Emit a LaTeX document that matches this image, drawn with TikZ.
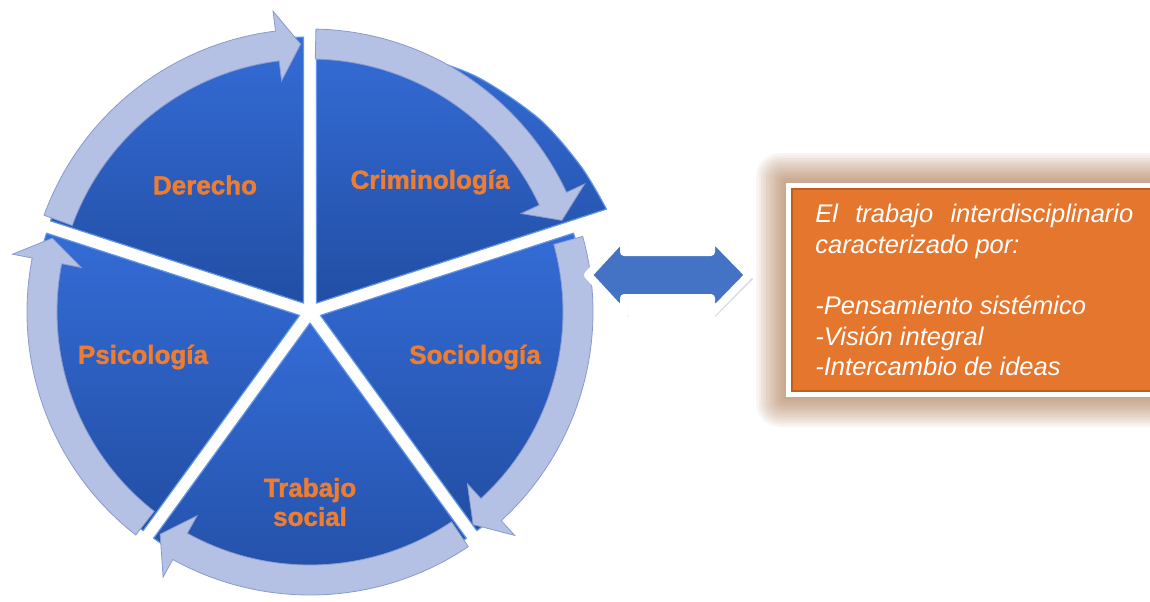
\documentclass[tikz,border=0pt]{standalone}
\usepackage{fontspec}
\setmainfont{Liberation Sans}
\newfontfamily\labelfont{Liberation Sans}[BoldFeatures={FakeBold=1.6}]
\usepackage{tikz}
\definecolor{segtop}{RGB}{52,108,214}
\definecolor{segbot}{RGB}{34,78,164}
\definecolor{segedge}{RGB}{100,150,232}
\definecolor{ringfill}{RGB}{180,193,229}
\definecolor{ringedge}{RGB}{138,154,204}
\definecolor{labelorange}{RGB}{237,125,49}
\definecolor{boxorange}{RGB}{228,118,46}
\definecolor{boxedge}{RGB}{196,92,26}
\definecolor{glowbrown}{RGB}{150,88,40}
\definecolor{arrowblue}{RGB}{68,114,196}
\newcommand{\pier}[0] {266}
\newcommand{\ringr}[0] {268}

\begin{document}
\begin{tikzpicture}[x=0.5pt,y=0.5pt,
        segment/.style={top color=segtop, bottom color=segbot, draw=segedge, line width=0.6pt, line join=round},
        ringarrow/.style={fill=ringfill, draw=ringedge, line width=0.4pt},
        field/.style={font=\fontsize{13}{14.5}\selectfont\labelfont\bfseries, text=labelorange, align=center}]
        \useasboundingbox (-310,-289) rectangle (840,312);

        %pie segments
        \foreach \a/\b in {90/162, -54/18, -126/-54, 162/234} {
            \pgfmathsetmacro{\m}{(\a+\b)/2}
            \draw[segment, shift={(\m:11)}] (0,0) -- (\a:\pier) arc (\a:\b:\pier) -- cycle;
        }
        \draw[segment, shift={(54:11)}] (0,0) -- plot[smooth] coordinates {(0,262) (88,250) (159,227) (223,184) (265,136) (290,94)} -- cycle;

        %arrows round the pie
        \foreach \s/\e in {160/92, 88.8/20, 15.5/-52.5, -56/-124, -128/-196} {
            \pgfmathsetmacro{\h}{\e+5}
            \draw[ringarrow] (\s:\ringr-15) arc (\s:\h:\ringr-15) -- (\h:\ringr-35) -- (\e:\ringr)
                -- (\h:\ringr+35) -- (\h:\ringr+15) arc (\h:\s:\ringr+15) -- cycle;
        }

        \node[field] (der) at (-105,127) {Derecho};
        \node[field] (crim) at (120,130) {Criminología};
        \node[field] (soc) at (165,-45) {Sociología};
        \node[field] (psi) at (-167,-45) {Psicología};
        \node[field] (trab) at (0,-190) {Trabajo\\social};

        %double arrow
        \fill[black, opacity=0.15] (282,33) -- (318,71) -- (318,55) -- (405,55) -- (405,71) -- (443,33)
            -- (405,-5) -- (405,11) -- (318,11) -- (318,-5) -- cycle;
        \draw[draw=white, line width=4pt, fill=arrowblue, line join=round] (278,37) -- (314,76) -- (314,60)
            -- (401,60) -- (401,76) -- (439,37) -- (401,-2) -- (401,14) -- (314,14) -- (314,-2) -- cycle;

        %box
        \foreach \g in {1,...,12}
            \fill[glowbrown, opacity=0.06, rounded corners=\g*1pt] (476-\g*2.5,-85-\g*2.5) rectangle (870+\g*2.5,129+\g*2.5);
        \fill[white] (476,-85) rectangle (870,129);
        \draw[fill=boxorange, draw=boxedge, line width=1pt] (482,-79) rectangle (870,123);
        \node[anchor=north west, inner sep=0pt, text width=159pt, align=justify, text=white,
            font=\fontsize{12.75}{15.3}\selectfont\itshape] (ideas) at (505,108)
            {El trabajo interdisciplinario\linebreak caracterizado por:\\[15.3pt]-Pensamiento sistémico\\-Visión integral\\-Intercambio de ideas};
\end{tikzpicture}
\end{document}
